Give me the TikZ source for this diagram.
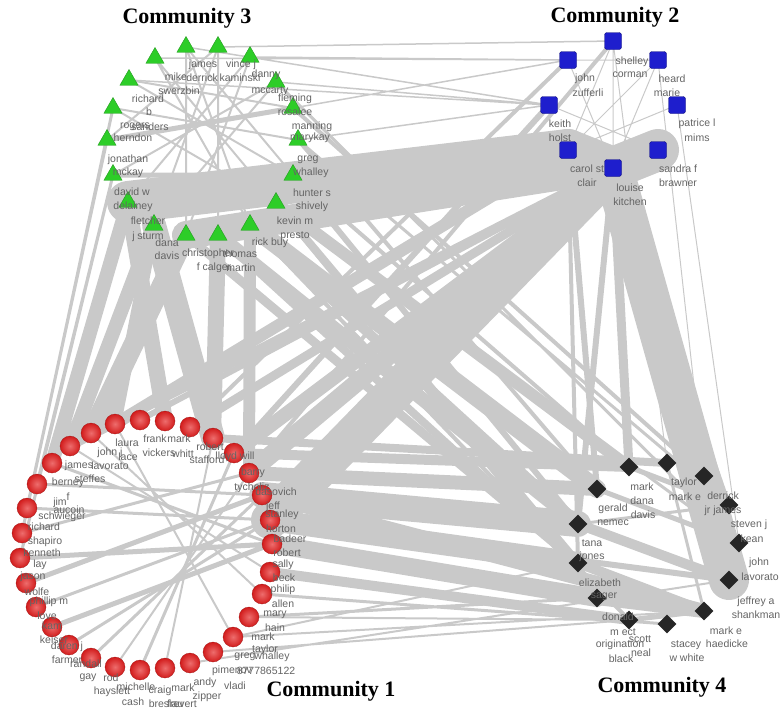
\documentclass[tikz,border=0pt]{standalone}
\usepackage{fontspec}
\setmainfont{Liberation Serif}
\newfontfamily\labelfont{Liberation Sans}
\usetikzlibrary{shapes.geometric,backgrounds}
\definecolor{edgegray}{RGB}{201,201,201}
\definecolor{labelgray}{RGB}{100,100,100}
\definecolor{trigreen}{RGB}{45,205,40}
\definecolor{sqblue}{RGB}{30,30,205}
\definecolor{ballred}{RGB}{228,30,30}
\definecolor{diablack}{RGB}{38,38,38}
\newcommand\whofont{\labelfont\fontsize{10.5}{11}\selectfont}
\newcommand\headfont{\bfseries\fontsize{22}{24}\selectfont}
\begin{document}
\begin{tikzpicture}[x=1pt,y=-1pt,
  tri/.style={regular polygon,regular polygon sides=3,fill=trigreen,draw=trigreen!75!black,line width=0.4pt,minimum size=21pt,inner sep=0pt},
  sq/.style={rectangle,rounded corners=2.5pt,fill=sqblue,draw=sqblue!60!black,line width=0.4pt,minimum size=17pt,inner sep=0pt},
  redball/.style={circle,shading=radial,inner color=ballred!65!white,outer color=ballred!92!black,draw=ballred!70!black,line width=0.3pt,minimum size=20pt,inner sep=0pt},
  dia/.style={diamond,fill=diablack,minimum size=19pt,inner sep=0pt},
  who/.style={text=labelgray,font=\whofont,inner sep=0pt},
  heading/.style={font=\headfont,inner sep=0pt},
  link/.style={draw=edgegray,line cap=round}]
\useasboundingbox (0,0) rectangle (783,713);

\node[tri] (g1) at (155,58) {};
\node[tri] (g2) at (186,47) {};
\node[tri] (g3) at (218,47) {};
\node[tri] (g4) at (250,57) {};
\node[tri] (g5) at (276,82) {};
\node[tri] (g6) at (293,108) {};
\node[tri] (g7) at (298,140) {};
\node[tri] (g8) at (293,175) {};
\node[tri] (g9) at (276,203) {};
\node[tri] (g10) at (250,225) {};
\node[tri] (g11) at (218,235) {};
\node[tri] (g12) at (186,235) {};
\node[tri] (g13) at (154,225) {};
\node[tri] (g14) at (128,202) {};
\node[tri] (g15) at (113,175) {};
\node[tri] (g16) at (107,140) {};
\node[tri] (g17) at (113,108) {};
\node[tri] (g18) at (129,80) {};

\node[sq] (b1) at (613,41) {};
\node[sq] (b2) at (568,60) {};
\node[sq] (b3) at (658,60) {};
\node[sq] (b4) at (549,105) {};
\node[sq] (b5) at (677,105) {};
\node[sq] (b6) at (568,150) {};
\node[sq] (b7) at (613,168) {};
\node[sq] (b8) at (658,150) {};

\node[redball] (r1) at (70,446) {};
\node[redball] (r2) at (91,433) {};
\node[redball] (r3) at (115,424) {};
\node[redball] (r4) at (140,420) {};
\node[redball] (r5) at (165,421) {};
\node[redball] (r6) at (190,427) {};
\node[redball] (r7) at (213,438) {};
\node[redball] (r8) at (234,453) {};
\node[redball] (r9) at (249,473) {};
\node[redball] (r10) at (262,495) {};
\node[redball] (r11) at (270,520) {};
\node[redball] (r12) at (272,544) {};
\node[redball] (r13) at (270,572) {};
\node[redball] (r14) at (262,594) {};
\node[redball] (r15) at (249,617) {};
\node[redball] (r16) at (233,637) {};
\node[redball] (r17) at (213,652) {};
\node[redball] (r18) at (190,663) {};
\node[redball] (r19) at (165,668) {};
\node[redball] (r20) at (140,670) {};
\node[redball] (r21) at (115,667) {};
\node[redball] (r22) at (91,658) {};
\node[redball] (r23) at (69,645) {};
\node[redball] (r24) at (52,627) {};
\node[redball] (r25) at (36,607) {};
\node[redball] (r26) at (26,583) {};
\node[redball] (r27) at (20,558) {};
\node[redball] (r28) at (22,533) {};
\node[redball] (r29) at (27,508) {};
\node[redball] (r30) at (37,484) {};
\node[redball] (r31) at (52,463) {};

\node[dia] (d1) at (629,467) {};
\node[dia] (d2) at (667,463) {};
\node[dia] (d3) at (704,476) {};
\node[dia] (d4) at (597,489) {};
\node[dia] (d5) at (729,505) {};
\node[dia] (d6) at (578,524) {};
\node[dia] (d7) at (739,543) {};
\node[dia] (d8) at (578,563) {};
\node[dia] (d9) at (729,580) {};
\node[dia] (d10) at (597,598) {};
\node[dia] (d11) at (629,620) {};
\node[dia] (d12) at (667,624) {};
\node[dia] (d13) at (704,611) {};

\begin{scope}[on background layer]
\draw[link,line width=42pt] (b6.center) -- (g14.center);
\draw[link,line width=42pt] (b7.center) -- (b6.center) (b7.center) -- (b8.center);
\draw[link,line width=28pt] (b7.center) -- (g12.center);
\draw[link,line width=38pt] (b7.center) -- (r11.center);
\draw[link,line width=40pt] (b7.center) -- (d9.center);
\draw[link,line width=18pt] (b7.center) -- (r9.center) (g10.center) -- (d4.center);
\draw[link,line width=14pt] (b7.center) -- (r8.center) (g11.center) -- (d6.center) (g13.center) -- (r1.center) (g14.center) -- (r31.center);
\draw[link,line width=12pt] (b6.center) -- (r3.center) (g9.center) -- (d1.center);
\draw[link,line width=9pt] (b7.center) -- (r6.center) (b7.center) -- (d1.center) (b7.center) -- (r1.center) (g12.center) -- (d8.center);
\draw[link,line width=6pt] (b7.center) -- (r4.center) (b6.center) -- (d4.center) (b7.center) -- (d6.center);
\draw[link,line width=4pt] (b7.center) -- (r2.center) (b6.center) -- (d8.center) (b7.center) -- (d5.center);
\draw[link,line width=24pt] (g13.center) -- (r7.center);
\draw[link,line width=20pt] (g12.center) -- (r2.center);
\draw[link,line width=16pt] (g14.center) -- (r5.center) (g11.center) -- (r7.center);
\draw[link,line width=12pt] (g10.center) -- (r9.center) (g13.center) -- (r3.center);
\draw[link,line width=26pt] (r10.center) -- (d6.center);
\draw[link,line width=22pt] (r11.center) -- (d8.center);
\draw[link,line width=18pt] (r12.center) -- (d10.center);
\draw[link,line width=14pt] (r9.center) -- (d4.center) (r10.center) -- (d13.center);
\draw[link,line width=10pt] (r8.center) -- (d1.center) (r13.center) -- (d11.center) (g10.center) -- (d6.center);
\draw[link,line width=8pt] (g9.center) -- (d8.center) (r7.center) -- (d2.center) (g11.center) -- (d8.center);
\draw[link,line width=6pt] (g8.center) -- (d6.center) (g9.center) -- (d10.center) (r11.center) -- (d9.center) (r8.center) -- (b4.center);
\draw[link,line width=4pt] (g7.center) -- (d4.center) (g8.center) -- (d1.center) (g10.center) -- (d11.center) (r6.center) -- (b2.center) (r9.center) -- (b1.center) (g6.center) -- (d3.center);
\draw[link,line width=3pt] (g7.center) -- (d5.center) (g5.center) -- (d7.center) (r14.center) -- (d12.center) (r15.center) -- (d10.center) (g9.center) -- (d7.center);
\draw[link,line width=2pt] (r16.center) -- (d8.center) (r17.center) -- (d11.center) (r16.center) -- (d13.center) (r18.center) -- (d9.center) (r15.center) -- (d11.center);
\draw[link,line width=5pt] (g15.center) -- (g8.center) (g16.center) -- (g6.center);
\draw[link,line width=3pt] (g15.center) -- (r30.center) (g16.center) -- (r29.center) (g17.center) -- (r28.center) (g15.center) -- (r27.center);
\draw[link,line width=2pt] (g1.center) -- (g10.center) (g2.center) -- (g12.center) (g3.center) -- (g13.center) (g4.center) -- (g14.center) (g5.center) -- (g15.center) (g7.center) -- (g17.center) (g8.center) -- (g18.center) (g9.center) -- (g1.center) (g10.center) -- (g2.center) (g11.center) -- (g3.center) (g12.center) -- (g4.center) (g13.center) -- (g5.center) (g18.center) -- (g6.center) (g17.center) -- (g9.center) (g3.center) -- (g16.center) (g2.center) -- (g8.center);
\draw[link,line width=1.5pt] (g4.center) -- (b2.center) (g5.center) -- (b4.center) (g3.center) -- (b1.center) (g6.center) -- (b2.center) (g7.center) -- (b4.center) (g2.center) -- (b4.center) (g8.center) -- (b6.center) (g1.center) -- (b2.center) (g18.center) -- (b4.center);
\draw[link,line width=1pt] (b1.center) -- (b7.center) (b2.center) -- (b7.center) (b3.center) -- (b7.center) (b1.center) -- (b6.center) (b3.center) -- (b6.center) (b5.center) -- (b6.center) (b4.center) -- (b8.center) (b2.center) -- (b3.center) (b1.center) -- (d2.center) (b3.center) -- (d3.center) (b5.center) -- (d7.center);
\draw[link,line width=5pt] (r27.center) -- (r12.center) (r26.center) -- (r10.center) (r24.center) -- (r12.center);
\draw[link,line width=3pt] (r22.center) -- (r10.center) (r23.center) -- (r11.center) (r25.center) -- (r11.center) (r28.center) -- (r9.center) (r29.center) -- (r11.center) (r30.center) -- (r10.center) (r20.center) -- (r8.center) (r31.center) -- (r12.center);
\draw[link,line width=2pt] (r21.center) -- (r9.center) (r19.center) -- (r7.center) (r1.center) -- (r13.center) (r2.center) -- (r14.center) (r3.center) -- (r16.center);
\draw[link,line width=14pt] (d10.center) -- (d13.center);
\draw[link,line width=10pt] (d6.center) -- (d9.center) (d8.center) -- (d13.center);
\draw[link,line width=5pt] (d4.center) -- (d7.center) (d1.center) -- (d5.center) (d11.center) -- (d13.center);
\draw[link,line width=3pt] (d2.center) -- (d13.center) (d3.center) -- (d9.center) (d6.center) -- (d5.center);
\end{scope}

\node[heading] (h3) at (187,18) {Community 3};
\node[heading] (h2) at (615,17) {Community 2};
\node[heading] (h1) at (331,691) {Community 1};
\node[heading] (h4) at (662,687) {Community 4};

\node[who] (t1) at (176,77) {mike};
\node[who] (t2) at (179,91) {swerzbin};
\node[who] (t3) at (203,65) {james};
\node[who] (t4) at (202,78) {derrick};
\node[who] (t5) at (241,65) {vince j};
\node[who] (t6) at (240,78) {kaminski};
\node[who] (t7) at (266,75) {danny};
\node[who] (t8) at (270,91) {mccarty};
\node[who] (t9) at (148,99) {richard};
\node[who] (t10) at (149,112) {b};
\node[who] (t11) at (295,99) {fleming};
\node[who] (t12) at (295,112) {rosalee};
\node[who] (t13) at (135,127) {rogers};
\node[who] (t14) at (150,127) {sanders};
\node[who] (t15) at (312,127) {manning};
\node[who] (t16) at (133,138) {herndon};
\node[who] (t17) at (310,138) {marykay};
\node[who] (t18) at (128,160) {jonathan};
\node[who] (t19) at (308,160) {greg};
\node[who] (t20) at (128,173) {mckay};
\node[who] (t21) at (311,173) {whalley};
\node[who] (t22) at (132,192) {david w};
\node[who] (t23) at (312,193) {hunter s};
\node[who] (t24) at (133,207) {delainey};
\node[who] (t25) at (312,207) {shively};
\node[who] (t26) at (148,221) {fletcher};
\node[who] (t27) at (295,221) {kevin m};
\node[who] (t28) at (148,237) {j sturm};
\node[who] (t29) at (295,236) {presto};
\node[who] (t30) at (167,243) {dana};
\node[who] (t31) at (270,243) {rick buy};
\node[who] (t32) at (167,256) {davis};
\node[who] (t33) at (208,254) {christopher};
\node[who] (t34) at (240,254) {thomas};
\node[who] (t35) at (214,268) {f calger};
\node[who] (t36) at (241,268) {martin};

\node[who] (t37) at (632,62) {shelley};
\node[who] (t38) at (630,75) {corman};
\node[who] (t39) at (585,79) {john};
\node[who] (t40) at (588,93) {zufferli};
\node[who] (t41) at (672,79) {heard};
\node[who] (t42) at (667,93) {marie};
\node[who] (t43) at (560,124) {keith};
\node[who] (t44) at (560,138) {holst};
\node[who] (t45) at (697,124) {patrice l};
\node[who] (t46) at (697,138) {mims};
\node[who] (t47) at (587,169) {carol st};
\node[who] (t48) at (587,183) {clair};
\node[who] (t49) at (678,169) {sandra f};
\node[who] (t50) at (678,183) {brawner};
\node[who] (t51) at (630,188) {louise};
\node[who] (t52) at (630,202) {kitchen};

\node[who] (t53) at (127,443) {laura};
\node[who] (t54) at (155,439) {frank};
\node[who] (t55) at (179,439) {mark};
\node[who] (t56) at (210,447) {robert};
\node[who] (t57) at (110,453) {john j};
\node[who] (t58) at (128,457) {lace};
\node[who] (t59) at (159,453) {vickers};
\node[who] (t60) at (183,454) {whitt};
\node[who] (t61) at (207,460) {stafford};
\node[who] (t62) at (235,457) {lloyd will};
\node[who] (t63) at (79,466) {james};
\node[who] (t64) at (110,466) {lavorato};
\node[who] (t65) at (253,473) {barry};
\node[who] (t66) at (68,483) {berney};
\node[who] (t67) at (90,479) {steffes};
\node[who] (t68) at (252,488) {tycholiz};
\node[who] (t69) at (276,492) {dasovich};
\node[who] (t70) at (68,497) {f};
\node[who] (t71) at (60,503) {jim};
\node[who] (t72) at (273,507) {jeff};
\node[who] (t73) at (69,510) {aucoin};
\node[who] (t74) at (282,515) {stanley};
\node[who] (t75) at (62,517) {schwieger};
\node[who] (t76) at (44,527) {richard};
\node[who] (t77) at (281,529) {horton};
\node[who] (t78) at (290,539) {badeer};
\node[who] (t79) at (45,542) {shapiro};
\node[who] (t80) at (42,553) {kenneth};
\node[who] (t81) at (287,553) {robert};
\node[who] (t82) at (40,565) {lay};
\node[who] (t83) at (283,565) {sally};
\node[who] (t84) at (33,577) {jason};
\node[who] (t85) at (284,578) {beck};
\node[who] (t86) at (283,590) {philip};
\node[who] (t87) at (37,592) {wolfe};
\node[who] (t88) at (49,602) {phillip m};
\node[who] (t89) at (283,604) {allen};
\node[who] (t90) at (275,615) {mary};
\node[who] (t91) at (47,616) {love};
\node[who] (t92) at (52,626) {kam};
\node[who] (t93) at (275,628) {hain};
\node[who] (t94) at (263,637) {mark};
\node[who] (t95) at (54,640) {keiser};
\node[who] (t96) at (67,647) {daren j};
\node[who] (t97) at (265,650) {taylor};
\node[who] (t98) at (245,657) {greg};
\node[who] (t99) at (272,657) {whalley};
\node[who] (t100) at (67,660) {farmer};
\node[who] (t101) at (86,664) {randall};
\node[who] (t102) at (232,671) {pimenov};
\node[who] (t103) at (266,671) {8777865122};
\node[who] (t104) at (88,678) {gay};
\node[who] (t105) at (111,678) {rod};
\node[who] (t106) at (205,683) {andy};
\node[who] (t107) at (235,686) {vladi};
\node[who] (t108) at (136,687) {michelle};
\node[who] (t109) at (183,688) {mark};
\node[who] (t110) at (160,691) {craig};
\node[who] (t111) at (112,692) {hayslett};
\node[who] (t112) at (207,697) {zipper};
\node[who] (t113) at (133,702) {cash};
\node[who] (t114) at (166,704) {breslau};
\node[who] (t115) at (182,704) {frevert};

\node[who] (t116) at (642,487) {mark};
\node[who] (t117) at (642,501) {dana};
\node[who] (t118) at (643,515) {davis};
\node[who] (t119) at (684,483) {taylor};
\node[who] (t120) at (685,497) {mark e};
\node[who] (t121) at (723,496) {derrick};
\node[who] (t122) at (723,511) {jr james};
\node[who] (t123) at (613,509) {gerald};
\node[who] (t124) at (613,523) {nemec};
\node[who] (t125) at (749,525) {steven j};
\node[who] (t126) at (752,539) {kean};
\node[who] (t127) at (592,543) {tana};
\node[who] (t128) at (592,557) {jones};
\node[who] (t129) at (759,563) {john};
\node[who] (t130) at (760,577) {lavorato};
\node[who] (t131) at (600,583) {elizabeth};
\node[who] (t132) at (604,597) {sager};
\node[who] (t133) at (756,602) {jeffrey a};
\node[who] (t134) at (756,615) {shankman};
\node[who] (t135) at (618,617) {donald};
\node[who] (t136) at (623,632) {m ect};
\node[who] (t137) at (726,631) {mark e};
\node[who] (t138) at (640,639) {scott};
\node[who] (t139) at (620,645) {origination};
\node[who] (t140) at (686,645) {stacey};
\node[who] (t141) at (727,644) {haedicke};
\node[who] (t142) at (641,653) {neal};
\node[who] (t143) at (687,658) {w white};
\node[who] (t144) at (621,659) {black};
\end{tikzpicture}
\end{document}
